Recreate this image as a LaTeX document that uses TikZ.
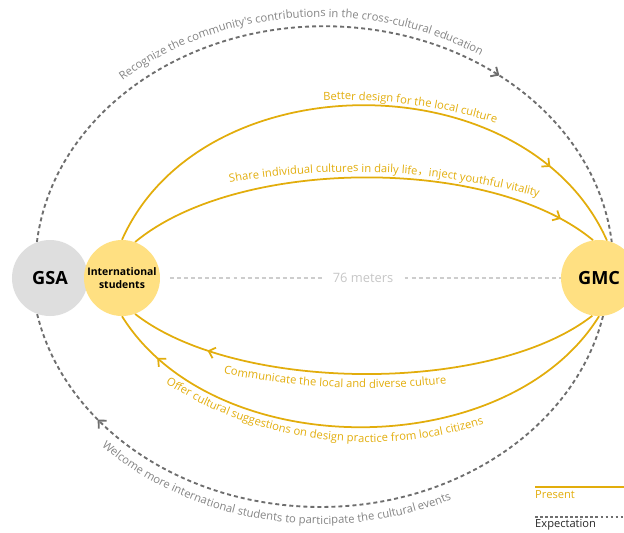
\documentclass[tikz,border=0pt]{standalone}
\usepackage{fontspec}
\setmainfont{Open Sans}
\newfontfamily\cjk{Noto Sans CJK SC}
\usepackage{tikz}
\usetikzlibrary{arrows.meta,decorations.markings,decorations.text,backgrounds}

\definecolor{gold}{RGB}{226,173,12}
\definecolor{softyellow}{RGB}{255,224,130}
\definecolor{hubgray}{RGB}{222,222,222}
\definecolor{dashgray}{RGB}{110,110,110}
\definecolor{notegray}{RGB}{132,132,132}
\definecolor{lengray}{RGB}{198,198,198}
\definecolor{distgray}{RGB}{205,205,205}

\newcommand\arclbl{\fontsize{9.6}{11}\selectfont}
\newcommand\arccjk{\cjk\fontsize{9.6}{11}\selectfont}

\tikzstyle{hub} = [circle, fill=hubgray, minimum size=2.28cm, inner sep=0pt,
    font=\bfseries\fontsize{15.5}{18}\selectfont]
\tikzstyle{student} = [circle, fill=softyellow, minimum size=2.28cm, inner sep=0pt,
    align=center, font=\bfseries\fontsize{8.9}{10.5}\selectfont]
\tikzstyle{dist} = [text=lengray, inner sep=0.33cm, font=\fontsize{11}{13}\selectfont]
\tikzstyle{present} = [draw, line width=1.5pt, color=gold]
\tikzstyle{expect} = [draw, line width=1.6pt, color=dashgray, dash pattern=on 3.4pt off 2.6pt]
\tikzstyle{distline} = [draw, line width=1pt, color=distgray, dash pattern=on 3.4pt off 2.6pt]
\tikzstyle{legend} = [inner sep=0pt, anchor=base west, font=\fontsize{9.5}{11}\selectfont]
\tikzset{midarrow/.style={postaction={decorate, decoration={markings,
    mark=at position #1 with {\arrow{Straight Barb[length=5pt,width=9.5pt]}}}}}}
\tikzset{arclabel/.style={decorate, decoration={text along path, text align=center,
    text color=#1}}}

\begin{document}
\begin{tikzpicture}[x=0.03cm, y=-0.03cm, node distance=2.16cm]
  \useasboundingbox (0,0) rectangle (624,532);

    % Place nodes
    \node [hub] (gsa) at (50,278) {GSA};
    \node [student, right of=gsa] (is) {International\\students};
    \node [hub, fill=softyellow, right of=is, node distance=14.31cm] (gmc) {GMC};
    \node [dist, right of=is, node distance=7.23cm] (len) {76 meters};

    % Draw edges
    \begin{scope}[on background layer]
    \path [expect, midarrow=0.735] (gsa.110) arc[start angle=186, end angle=354, x radius=289, y radius=241];
    \path [expect, midarrow=0.83] (gmc.-84) arc[start angle=12, end angle=169, x radius=289, y radius=241];
    \path [present, midarrow=0.84] (is.north) .. controls +(80,-180) and +(-80,-180) .. (gmc.78);
    \path [present, midarrow=0.92] (is.70) .. controls +(102,-85) and +(-102,-85) .. (gmc.99);
    \path [present, midarrow=0.83] (gmc.-100) .. controls +(-101,79) and +(101,79) .. (is.-70);
    \path [present, midarrow=0.9] (gmc.south) .. controls +(-92,148) and +(92,148) .. (is.south);
    \path [distline, shorten <=0.3cm] (is.east) -- (len.west);
    \path [distline] (len.east) -- (gmc.west);
    \end{scope}

    % Labels along the arcs
    \path [arclabel=notegray, decoration={text={|\arclbl|Recognize the community{\textquotesingle}s contributions in the cross-cultural education}}]
      (51.8,160.8) arc[start angle=205, end angle=325, x radius=297, y radius=249];
    \path [arclabel=notegray, decoration={text={|\arclbl|Welcome more international students to participate the cultural events}}]
      (31.7,350.0) arc[start angle=161, end angle=41, x radius=306, y radius=258];
    \path [arclabel=gold, decoration={text={|\arclbl|Better design for the local culture}}]
      (241.6,109.0) arc[start angle=259.5, end angle=295.5, radius=540];
    \path [arclabel=gold, decoration={text={|\arclbl|Share individual cultures in daily life|\arccjk|，|\arclbl|inject youthful vitality}}]
      (143.6,204.0) arc[start angle=252.6, end angle=292.6, radius=700];
    \path [arclabel=gold, decoration={text={|\arclbl|Communicate the local and diverse culture}}]
      (151.1,354.6) arc[start angle=107.6, end angle=77.6, radius=714];
    \path [arclabel=gold, decoration={text={|\arclbl|Offer cultural suggestions on design practice from local citizens}}]
      (90.5,320.6) arc[start angle=137.3, end angle=57.3, radius=377.6];

    % Legend
    \coordinate (presA) at (535,487);
    \coordinate (presB) at (626,487);
    \coordinate (expA) at (535,517);
    \coordinate (expB) at (626,517);
    \path [present] (presA) -- (presB);
    \path [draw, line width=1.1pt, color=dashgray, dash pattern=on 2.3pt off 2pt] (expA) -- (expB);
    \node [legend, text=gold] (presText) at (535,498) {Present};
    \node [legend, text=black!85] (expText) at (535,527) {Expectation};
\end{tikzpicture}
\end{document}
